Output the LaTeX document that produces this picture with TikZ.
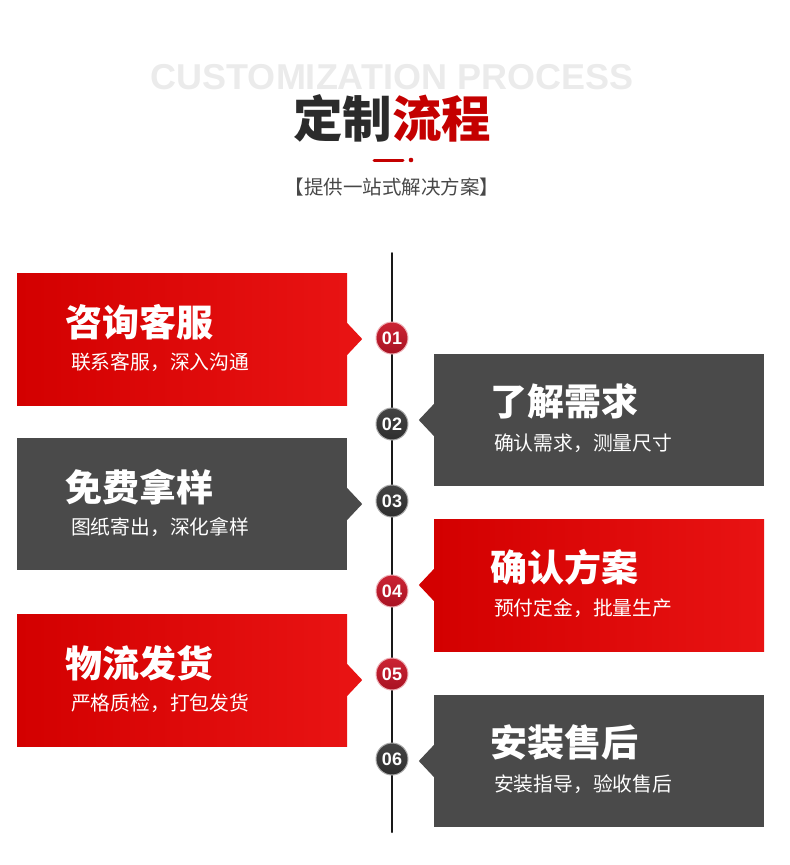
\documentclass[tikz,border=0pt]{standalone}
\usepackage{fontspec}
\setmainfont{Liberation Sans}
\newfontfamily\cjk{Noto Sans CJK SC}
\usepackage{tikz}
\usetikzlibrary{positioning}
\usepackage{xcolor}

\definecolor{boxredA}{HTML}{D30000}
\definecolor{boxredB}{HTML}{E81313}
\definecolor{boxgray}{HTML}{4A4A4A}
\definecolor{titlered}{HTML}{C40000}
\definecolor{titledark}{HTML}{2B2B2B}
\definecolor{ballA}{HTML}{CC2434}
\definecolor{ballB}{HTML}{A81222}
\definecolor{ballgrayA}{HTML}{444444}
\definecolor{ballgrayB}{HTML}{2E2E2E}

\begin{document}
\begin{tikzpicture}[x=1pt,y=-1pt,line cap=round,
  redbox/.style={minimum width=330pt,minimum height=132pt,inner sep=0pt,left color=boxredA,right color=boxredB},
  graybox/.style={minimum width=330pt,minimum height=132pt,inner sep=0pt,fill=boxgray},
  boxtitle/.style={anchor=west,inner sep=0pt,text=white,font=\cjk\bfseries\fontsize{37}{40}\selectfont},
  boxsub/.style={anchor=west,inner sep=0pt,text=white,font=\cjk\fontsize{19.8}{22}\selectfont},
  redball/.style={circle,minimum size=32pt,inner sep=0pt,top color=ballA,bottom color=ballB,draw=white!65!ballA,line width=1pt,text=white,font=\bfseries\fontsize{18}{18}\selectfont},
  grayball/.style={redball,top color=ballgrayA,bottom color=ballgrayB,draw=white!55!ballgrayA}]
\useasboundingbox (0,0) rectangle (790,865);

% heading
\node[text=black!8,font=\bfseries\fontsize{36}{36}\selectfont] (en) at (392,77) {CUSTOMIZATION PROCESS};
\node[font=\cjk\bfseries\fontsize{49.5}{52}\selectfont] (ttl) at (392,118) {\textcolor{titledark}{定制}\textcolor{titlered}{流程}};
\draw[titlered,line width=3pt] (374,160) -- (403,160);
\fill[titlered] (411,160) circle (2.3);
\node[text=black!72,font=\cjk\fontsize{19.5}{21}\selectfont] (sub) at (392,187) {【提供一站式解决方案】};

% time line
\coordinate (top) at (392,253);
\coordinate (bot) at (392,832);
\draw[black!90,line width=2pt] (top) -- (bot);

% left column
\node[redbox] (b1) at (182,339) {};
\fill[boxredB] ([xshift=-1pt]b1.east) ++(0,-17) -- ++(16,17) -- ++(-16,17) -- cycle;
\node[boxtitle] (t1) at ([shift={(48,49)}]b1.north west) {咨询客服};
\node[boxsub] (s1) at ([shift={(54,89)}]b1.north west) {联系客服，深入沟通};

\node[graybox] (b3) at (182,504) {};
\fill[boxgray] ([xshift=-1pt]b3.east) ++(0,-17) -- ++(16,17) -- ++(-16,17) -- cycle;
\node[boxtitle] (t3) at ([shift={(48,49)}]b3.north west) {免费拿样};
\node[boxsub] (s3) at ([shift={(54,89)}]b3.north west) {图纸寄出，深化拿样};

\node[redbox] (b5) at (182,680) {};
\fill[boxredB] ([xshift=-1pt]b5.east) ++(0,-17) -- ++(16,17) -- ++(-16,17) -- cycle;
\node[boxtitle] (t5) at ([shift={(48,49)}]b5.north west) {物流发货};
\node[boxsub] (s5) at ([shift={(54,89)}]b5.north west) {严格质检，打包发货};

% right column
\node[graybox] (b2) at (599,420) {};
\fill[boxgray] ([xshift=1pt]b2.west) ++(0,-17) -- ++(-16,17) -- ++(16,17) -- cycle;
\node[boxtitle] (t2) at ([shift={(56,48)}]b2.north west) {了解需求};
\node[boxsub] (s2) at ([shift={(60,89)}]b2.north west) {确认需求，测量尺寸};

\node[redbox] (b4) at (599,585) {};
\fill[boxredA] ([xshift=1pt]b4.west) ++(0,-17) -- ++(-16,17) -- ++(16,17) -- cycle;
\node[boxtitle] (t4) at ([shift={(56,48)}]b4.north west) {确认方案};
\node[boxsub] (s4) at ([shift={(60,89)}]b4.north west) {预付定金，批量生产};

\node[graybox] (b6) at (599,761) {};
\fill[boxgray] ([xshift=1pt]b6.west) ++(0,-17) -- ++(-16,17) -- ++(16,17) -- cycle;
\node[boxtitle] (t6) at ([shift={(56,48)}]b6.north west) {安装售后};
\node[boxsub] (s6) at ([shift={(60,89)}]b6.north west) {安装指导，验收售后};

% steps
\node[redball] (c1) at (392,338) {01};
\node[grayball] (c2) at (392,424) {02};
\node[grayball] (c3) at (392,501) {03};
\node[redball] (c4) at (392,591) {04};
\node[redball] (c5) at (392,674) {05};
\node[grayball] (c6) at (392,759) {06};
\end{tikzpicture}
\end{document}
